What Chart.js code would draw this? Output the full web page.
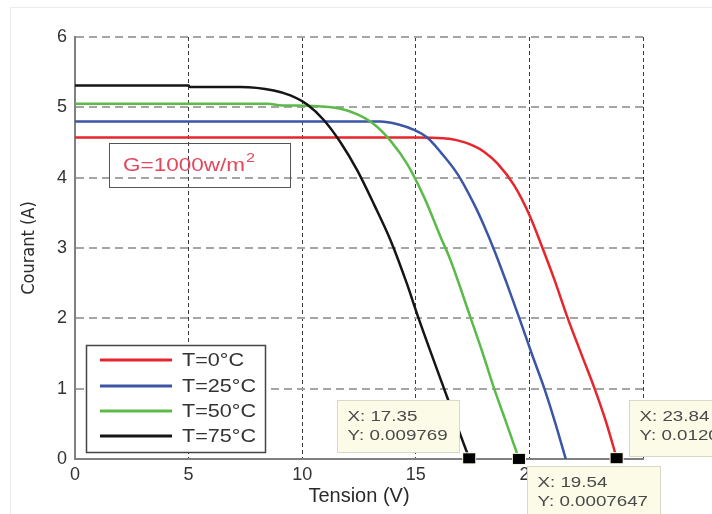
<!DOCTYPE html>
<html>
<head>
<meta charset="utf-8">
<script src="https://cdn.jsdelivr.net/npm/chart.js@4.4.1/dist/chart.umd.min.js"></script>
<style>
  html, body { margin: 0; padding: 0; background: #fff; }
  #wrap { width: 712px; height: 514px; }
</style>
</head>
<body>
<div id="wrap"><canvas id="ivChart" width="712" height="514"></canvas></div>
<script>
// I-V curves of a PV module at G=1000 W/m2, for 4 temperatures
const seriesLabels = ['T=0°C', 'T=25°C', 'T=50°C', 'T=75°C'];
const seriesColors = ['#e6262c', '#3a56a5', '#5cba4a', '#151515'];

const v0 = [0, 15, 16.2, 16.84, 17.57, 18.0, 18.6, 19.33, 20.0, 20.59, 21.1, 21.69, 22.3, 22.87, 23.4, 23.84];
const i0 = [4.57, 4.57, 4.56, 4.53, 4.45, 4.37, 4.2, 3.89, 3.47, 2.99, 2.55, 2.0, 1.48, 1.0, 0.5, 0.012];

const v25 = [0, 12, 13.45, 14.2, 14.92, 15.5, 16.1, 16.84, 17.57, 18.0, 18.5, 19.0, 19.56, 20.1, 20.66, 21.15, 21.6];
const i25 = [4.8, 4.8, 4.8, 4.76, 4.68, 4.57, 4.36, 4.05, 3.62, 3.32, 2.93, 2.5, 2.0, 1.5, 1.0, 0.5, 0];

const v50 = [0, 8.5, 9, 10.5, 11.69, 12.43, 13.16, 13.9, 14.63, 15.37, 16.1, 16.5, 17.42, 17.95, 18.45, 19.0, 19.54];
const i50 = [5.05, 5.05, 5.03, 5.02, 4.98, 4.9, 4.76, 4.52, 4.19, 3.72, 3.15, 2.85, 2.0, 1.5, 1.0, 0.5, 0.0008];

const v75 = [0, 5, 5.05, 7.28, 8.75, 9.48, 10.22, 10.95, 11.69, 12.43, 13.16, 13.9, 14.6, 15.07, 15.7, 16.47, 16.9, 17.35];
const i75 = [5.31, 5.31, 5.29, 5.29, 5.24, 5.17, 5.04, 4.82, 4.5, 4.1, 3.62, 3.1, 2.5, 2.05, 1.48, 0.8, 0.4, 0.0098];

// data tips (MATLAB style) at the open-circuit points
const tipX = [17.35, 19.54, 23.84];
const tipY = [0.009769, 0.0007647, 0.0120];
const tipXText = ['17.35', '19.54', '23.84'];
const tipYText = ['0.009769', '0.0007647', '0.0120'];

const annotationText = 'G=1000w/m';
const annotationSup = '2';

const allV = [v0, v25, v50, v75];
const allI = [i0, i25, i50, i75];

const SANS = "'Liberation Sans', Arial, sans-serif";

function toPoints(xs, ys) {
    return xs.map((x, k) => ({x: x, y: ys[k]}));
}

// text drawn a bit wider than tall, like the stretched original
function wideText(ctx, txt, x, y, size, color, stretch) {
    ctx.save();
    ctx.translate(x, y);
    ctx.scale(stretch, 1);
    ctx.font = size + 'px ' + SANS;
    ctx.fillStyle = color;
    ctx.textBaseline = 'middle';
    ctx.textAlign = 'left';
    ctx.fillText(txt, 0, 0);
    const w = ctx.measureText(txt).width * stretch;
    ctx.restore();
    return w;
}

const extrasPlugin = {
    id: 'extras',
    beforeDraw(chart) {
        const ctx = chart.ctx;
        ctx.save();
        ctx.strokeStyle = '#ececec';
        ctx.lineWidth = 1;
        ctx.beginPath();
        ctx.moveTo(10.5, 514);
        ctx.lineTo(10.5, 7.5);
        ctx.lineTo(712, 7.5);
        ctx.stroke();
        ctx.restore();
    },
    afterDatasetsDraw(chart) {
        const ctx = chart.ctx;
        ctx.save();
        // irradiance box
        ctx.strokeStyle = '#555';
        ctx.lineWidth = 1;
        ctx.strokeRect(109.5, 143.5, 181, 44);
        const w = wideText(ctx, annotationText, 123, 166, 18, '#e2475c', 1.25);
        wideText(ctx, annotationSup, 123 + w + 1, 158, 13, '#e2475c', 1.25);

        // legend
        ctx.fillStyle = '#fff';
        ctx.fillRect(86, 345, 179, 107);
        ctx.strokeStyle = '#444';
        ctx.lineWidth = 1.5;
        ctx.strokeRect(86.5, 345.5, 179, 107);
        const rows = [360, 386, 411, 436];
        chart.data.datasets.forEach((ds, k) => {
            ctx.strokeStyle = ds.borderColor;
            ctx.lineWidth = 3;
            ctx.beginPath();
            ctx.moveTo(100, rows[k]);
            ctx.lineTo(172, rows[k]);
            ctx.stroke();
            wideText(ctx, ds.label, 182, rows[k] + 1, 18, '#333', 1.2);
        });
        ctx.restore();
    },
    afterDraw(chart) {
        const ctx = chart.ctx;
        const xs = chart.scales.x, ys = chart.scales.y;
        // box offsets relative to the marker
        const boxes = [
            {left: -132, top: -58, w: 122, h: 52},
            {left: 8, top: 7, w: 133, h: 60},
            {left: 12, top: -58, w: 133, h: 56}
        ];
        ctx.save();
        tipX.forEach((tx, k) => {
            const px = xs.getPixelForValue(tx);
            const py = ys.getPixelForValue(tipY[k]);
            const b = boxes[k];
            const bx = Math.round(px + b.left) + 0.5, by = Math.round(py + b.top) + 0.5;
            ctx.fillStyle = '#fbfbe8';
            ctx.fillRect(bx, by, b.w, b.h);
            ctx.strokeStyle = '#d9d9c6';
            ctx.lineWidth = 1;
            ctx.strokeRect(bx, by, b.w, b.h);
            wideText(ctx, 'X: ' + tipXText[k], bx + 10, by + 16, 15, '#4a4a4a', 1.25);
            wideText(ctx, 'Y: ' + tipYText[k], bx + 10, by + 35, 15, '#4a4a4a', 1.25);
            // marker
            ctx.fillStyle = '#f4f4dc';
            ctx.fillRect(px - 7, py - 6, 14, 12);
            ctx.fillStyle = '#000';
            ctx.fillRect(px - 6, py - 5, 12, 10);
        });
        ctx.restore();
    }
};

const ctx = document.getElementById('ivChart').getContext('2d');
new Chart(ctx, {
    type: 'scatter',
    data: {
        datasets: seriesLabels.map((lab, k) => ({
            label: lab,
            data: toPoints(allV[k], allI[k]),
            showLine: true,
            borderColor: seriesColors[k],
            backgroundColor: seriesColors[k],
            borderWidth: 2.5,
            pointRadius: 0,
            cubicInterpolationMode: 'monotone',
            order: 4 - k
        }))
    },
    options: {
        responsive: false,
        devicePixelRatio: 1,
        animation: false,
        layout: { padding: { top: 37, right: 69, left: 0, bottom: 0 } },
        plugins: {
            legend: { display: false },
            tooltip: { enabled: false }
        },
        scales: {
            x: {
                type: 'linear',
                min: 0,
                max: 25,
                afterFit: (s) => { s.height = 55; },
                ticks: {
                    stepSize: 5,
                    color: '#333',
                    padding: 5,
                    font: { family: SANS, size: 18 },
                    maxRotation: 0
                },
                grid: { color: '#3a3a3a', lineWidth: 1, drawTicks: false },
                border: { display: true, color: '#808080', width: 2, dash: [4, 3] },
                title: {
                    display: true,
                    text: 'Tension (V)',
                    color: '#2a2a2a',
                    font: { family: SANS, size: 20 },
                    padding: { top: 0, bottom: 6 }
                }
            },
            y: {
                type: 'linear',
                min: 0,
                max: 6,
                afterFit: (s) => { s.width = 75; },
                ticks: {
                    stepSize: 1,
                    color: '#333',
                    padding: 8,
                    font: { family: SANS, size: 18 }
                },
                grid: { color: '#a5a5a5', lineWidth: 2, drawTicks: false },
                border: { display: true, color: '#808080', width: 2, dash: [8, 5] },
                title: {
                    display: true,
                    text: 'Courant (A)',
                    color: '#2a2a2a',
                    font: { family: "'Liberation Sans Narrow', 'DejaVu Sans Condensed', sans-serif", size: 18 },
                    padding: { top: 19, bottom: 0 }
                }
            }
        }
    },
    plugins: [extrasPlugin]
});
</script>
</body>
</html>
